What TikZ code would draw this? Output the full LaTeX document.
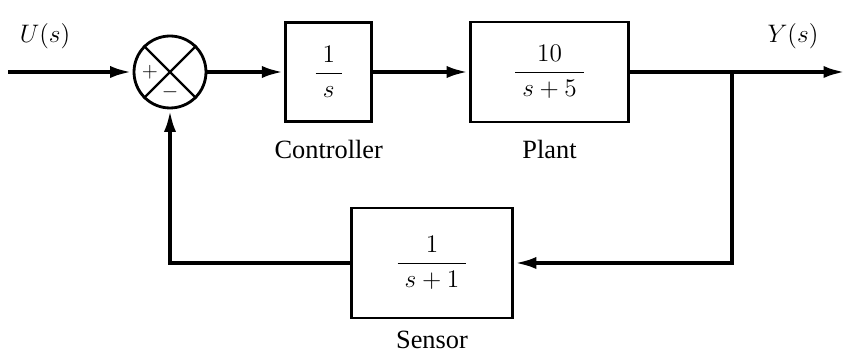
\documentclass[tikz,border=0pt]{standalone}
\usepackage{fontspec}
\setmainfont{Liberation Serif}
\usetikzlibrary{arrows.meta,positioning}

\begin{document}
\begin{tikzpicture}[>={Latex[length=4.5mm,width=2.4mm]},x=0.02cm,y=-0.02cm,
  block/.style={draw,line width=1.6pt,minimum height=2cm,align=center,font=\Large},
  signal/.style={line width=2.4pt},
  caption/.style={font=\fontsize{15}{18}\selectfont,inner sep=1pt}]
  \useasboundingbox (0,0) rectangle (849,354);

  % summing junction
  \node[draw,circle,line width=1.6pt,minimum size=1.44cm,inner sep=0pt] (sum) at (170,72) {};
  \draw[line width=1.4pt] (sum.45) -- (sum.225) (sum.135) -- (sum.315);
  \node[font=\large] (plus) at ([xshift=-0.4cm]sum.center) {$+$};
  \node[font=\large] (minus) at ([yshift=-0.4cm]sum.center) {$-$};

  % forward path
  \node[block,minimum width=1.72cm,minimum height=1.98cm,right=1.54cm of sum] (ctrl)
    {$\displaystyle\frac{\;1\;}{\;s\;}$};
  \node[block,minimum width=3.16cm,right=1.92cm of ctrl] (plant)
    {$\displaystyle\frac{\;10\;}{\;s+5\;}$};
  \node[caption,below=0.3cm of ctrl] (ctrllabel) {Controller};
  \node[caption,below=0.3cm of plant] (plantlabel) {Plant};

  % feedback path
  \node[block,minimum width=3.22cm,minimum height=2.2cm] (sensor) at (432,263)
    {$\displaystyle\frac{\;1\;}{\;s+1\;}$};
  \node[caption,below=0.2cm of sensor] (sensorlabel) {Sensor};

  \coordinate (in) at (8,72);
  \coordinate (out) at (846,72);
  \coordinate (branch) at (732,72);
  \node[font=\Large] (ulabel) at (45,36) {$U(s)$};
  \node[font=\Large] (ylabel) at (793,36) {$Y(s)$};

  \draw[signal,->] (in) -- (sum.west);
  \draw[signal,->] (sum.east) -- (ctrl.west);
  \draw[signal,->] (ctrl.east) -- (plant.west);
  \draw[signal,->] (plant.east) -- (out);
  \draw[signal,->] (branch) |- (sensor.east);
  \draw[signal,->] (sensor.west) -| (sum.south);
\end{tikzpicture}
\end{document}
